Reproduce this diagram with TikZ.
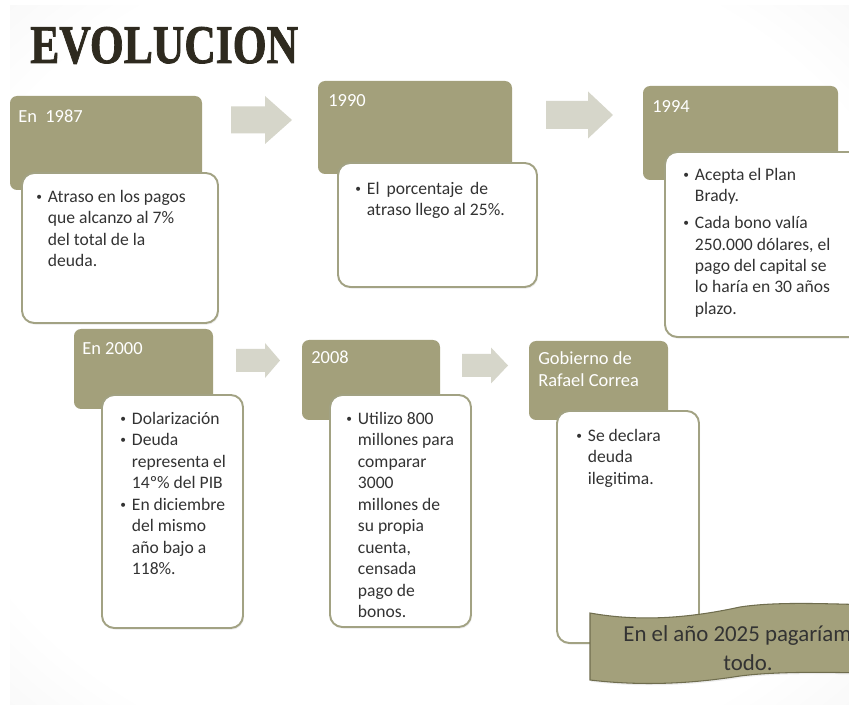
\documentclass[tikz,border=0pt]{standalone}
\usepackage{fontspec}
\setmainfont{Carlito}
\newfontfamily\titulo[BoldFeatures={FakeBold=1.6}]{Liberation Serif}
\usetikzlibrary{fit,shadows}
\definecolor{olivo}{HTML}{A3A07B}
\definecolor{olivoosc}{HTML}{6F6D4E}
\definecolor{borde}{HTML}{A2A283}
\definecolor{flechagris}{HTML}{D6D6CA}
\definecolor{tinta}{HTML}{333333}
\definecolor{oscuro}{HTML}{2E2A1F}
\definecolor{fondo}{HTML}{D2D2D2}
\pgfdeclareradialshading{diapo}{\pgfpoint{0bp}{0bp}}{color(0bp)=(white); color(30bp)=(white); color(72bp)=(fondo)}
\tikzset{cabecera/.style={fill=olivo,rounded corners=4pt,inner sep=0pt},
cuerpo/.style={draw=borde,line width=1.1pt,fill=white,rounded corners=7pt,inner sep=0pt,
  drop shadow={opacity=.12,shadow xshift=.6pt,shadow yshift=-1pt}},
rotulo/.style={font=\fontsize{10.5}{12.5}\selectfont,text=white,align=left,anchor=north west,inner sep=0pt},
texto/.style={font=\fontsize{10}{12.2}\selectfont,text=tinta,align=left,anchor=north west,inner sep=0pt}}
\newcommand{\vin}{\makebox[6.6pt][l]{\raisebox{1.2pt}{\scalebox{.65}{\textbullet}}}}
\newcommand{\sang}{\hspace*{6.6pt}}
\newcommand{\flecha}[6]{\fill[flechagris] (#1,#4-#5) -- (#2,#4-#5) -- (#2,#4-#6) -- (#3,#4)
  -- (#2,#4+#6) -- (#2,#4+#5) -- (#1,#4+#5) -- cycle;}

\begin{document}
\begin{tikzpicture}[x=0.02cm,y=-0.02cm]
\useasboundingbox (0,0) rectangle (849,705);
\clip (0,0) rectangle (849,705);
\fill[white] (0,0) rectangle (849,705);
\shade[shading=diapo] (10,6) rectangle (849,705);
\node[font={\titulo\bfseries\fontsize{31}{31}\selectfont},text=oscuro,anchor=base west,inner sep=0pt,xscale=.8] (titulo) at (30,63) {EVOLUCION};

\node[cabecera,fit={(10,96)(202,190)}] (c1) {};
\node[rotulo] (r1) at (18,110) {En\ \ 1987};
\node[cuerpo,fit={(22,173)(218,323)}] (b1) {};
\node[texto] (t1) at (36,190) {\vin Atraso en los pagos\\\sang que alcanzo al 7\%\\\sang del total de la\\\sang deuda.};
\flecha{231}{265}{292}{120}{13.5}{24}

\node[cabecera,fit={(318,81)(512,174)}] (c2) {};
\node[rotulo] (r2) at (328,94) {1990};
\node[cuerpo,fit={(338,163)(537,287)}] (b2) {};
\node[texto] (t2) at (355,182) {\vin El\hspace{4pt}porcentaje\hspace{4pt}de\\\sang atraso llego al 25\%.};
\flecha{546}{588}{613}{115}{14}{23.5}

\node[cabecera,fit={(643,86)(838,180)}] (c3) {};
\node[rotulo] (r3) at (652,100) {1994};
\node[cuerpo,fit={(665,152)(870,337)}] (b3) {};
\node[texto] (t3) at (683,168) {\vin Acepta el Plan\\\sang Brady.\\[3pt]\vin Cada bono valía\\\sang 250.000 dólares, el\\\sang pago del capital se\\\sang lo haría en 30 años\\\sang plazo.};

\node[cabecera,fit={(74,329)(213,409)}] (c4) {};
\node[rotulo] (r4) at (82,342) {En 2000};
\node[cuerpo,fit={(102,395)(243,628)}] (b4) {};
\node[texto] (t4) at (120,412) {\vin Dolarización\\\vin Deuda\\\sang representa el\\\sang 14º\% del PIB\\\vin En diciembre\\\sang del mismo\\\sang año bajo a\\\sang 118\%.};
\flecha{236}{265}{280}{360.5}{11.5}{17.5}

\node[cabecera,fit={(302,340)(440,420)}] (c5) {};
\node[rotulo] (r5) at (311,351) {2008};
\node[cuerpo,fit={(330,395)(471,627)}] (b5) {};
\node[texto] (t5) at (346,412) {\vin Utilizo 800\\\sang millones para\\\sang comparar\\\sang 3000\\\sang millones de\\\sang su propia\\\sang cuenta,\\\sang censada\\\sang pago de\\\sang bonos.};
\flecha{462}{491}{508}{365.5}{11.5}{18}

\node[cabecera,fit={(529,341)(668,420)}] (c6) {};
\node[rotulo] (r6) at (538,351) {Gobierno de\\Rafael Correa};
\node[cuerpo,fit={(557,411)(699,643)}] (b6) {};
\node[texto] (t6) at (576,429) {\vin Se declara\\\sang deuda\\\sang ilegitima.};

\draw[fill=olivo,draw=olivoosc,line width=.6pt,drop shadow={opacity=.15,shadow xshift=.6pt,shadow yshift=-1pt}]
  (590,613) .. controls (640,622) and (690,618) .. (740,607) .. controls (780,601) and (830,604) .. (910,606)
  -- (910,674) .. controls (830,672) and (780,671) .. (740,676) .. controls (690,684) and (640,686) .. (590,680) -- cycle;
\node[font=\fontsize{13}{16.5}\selectfont,text=tinta,align=center,inner sep=0pt] (cinta) at (748,648) {En el año 2025 pagaríamos\\todo.};
\end{tikzpicture}
\end{document}
